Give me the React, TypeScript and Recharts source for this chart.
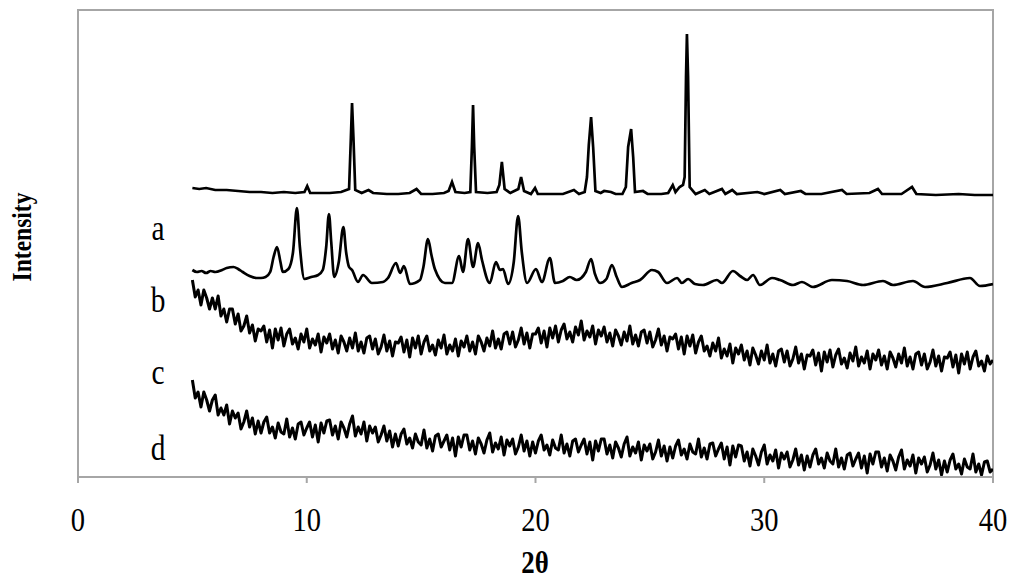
import React from "react";
import { LineChart, Line, XAxis, YAxis, ReferenceArea } from "recharts";

// 2θ grid of the amorphous scans (deg)
const SCAN_START = 5;
const SCAN_STEP = 0.125;

const xTicks = [0, 10, 20, 30, 40];
const traceLabels = ["a", "b", "c", "d"];

// top pattern: [2θ, intensity]
const patternTop: [number, number][] = [
  [5.0, 289], [5.3, 288], [5.6, 289], [6.0, 287], [6.5, 287], [7.0, 286], [7.5, 285], [8.0, 285],
  [8.5, 284], [9.0, 285], [9.5, 284], [9.9, 285], [10.02, 291], [10.15, 284], [10.5, 284], [11.0, 284],
  [11.5, 285], [11.85, 288], [11.93, 340], [11.98, 374], [12.04, 340], [12.12, 287], [12.4, 284],
  [12.7, 287], [12.9, 284], [13.5, 283], [14.0, 283], [14.5, 284], [14.8, 288], [15.0, 283], [15.5, 283],
  [16.0, 284], [16.2, 286], [16.35, 295], [16.5, 285], [16.9, 284], [17.15, 285], [17.22, 330],
  [17.27, 372], [17.32, 330], [17.4, 285], [17.9, 284], [18.3, 285], [18.42, 292], [18.53, 315],
  [18.65, 288], [18.9, 284], [19.25, 288], [19.37, 300], [19.5, 286], [19.8, 283], [19.98, 289],
  [20.1, 283], [20.6, 283], [21.2, 283], [21.68, 287], [21.9, 283], [22.15, 285], [22.25, 300],
  [22.33, 332], [22.43, 360], [22.52, 330], [22.62, 286], [22.85, 284], [23.0, 286], [23.3, 285],
  [23.5, 283], [23.8, 283], [23.95, 290], [24.05, 330], [24.18, 348], [24.27, 320], [24.35, 285],
  [24.7, 286], [24.9, 283], [25.5, 283], [25.8, 284], [26.0, 292], [26.12, 285], [26.3, 290],
  [26.45, 292], [26.52, 300], [26.58, 400], [26.62, 443], [26.67, 400], [26.74, 290], [27.0, 283],
  [27.4, 287], [27.6, 283], [28.15, 288], [28.3, 283], [28.6, 287], [28.8, 283], [29.7, 285],
  [30.0, 283], [30.7, 287], [30.9, 283], [31.6, 286], [31.8, 283], [32.5, 283], [33.4, 287],
  [33.6, 283], [34.6, 284], [34.97, 288], [35.15, 283], [36.0, 283], [36.46, 290], [36.65, 283],
  [37.5, 282], [38.5, 283], [39.2, 282], [40.0, 282],
];

// second pattern (many broad peaks)
const patternA: [number, number][] = [
  [5.0, 207], [5.2, 205], [5.4, 206], [5.6, 204], [5.8, 206], [6.0, 205], [6.3, 207], [6.5, 209],
  [6.8, 210], [7.0, 208], [7.2, 205], [7.5, 201], [7.8, 199], [8.0, 199], [8.2, 200], [8.4, 205],
  [8.55, 220], [8.7, 230], [8.85, 215], [8.95, 205], [9.2, 208], [9.4, 225], [9.57, 269], [9.7, 230],
  [9.9, 198], [10.2, 200], [10.5, 202], [10.7, 207], [10.85, 230], [10.97, 263], [11.07, 235],
  [11.2, 200], [11.4, 215], [11.6, 250], [11.72, 225], [11.85, 210], [11.98, 207], [12.24, 195],
  [12.46, 202], [12.85, 194], [13.33, 195], [13.55, 199], [13.9, 214], [14.08, 204], [14.25, 211],
  [14.51, 193], [14.95, 197], [15.1, 210], [15.3, 238], [15.45, 222], [15.6, 208], [16.04, 194],
  [16.35, 194], [16.66, 221], [16.83, 205], [17.05, 238], [17.27, 210], [17.49, 234], [17.66, 217],
  [18.0, 194], [18.27, 215], [18.45, 207], [18.58, 208], [18.8, 193], [19.05, 215], [19.24, 261],
  [19.4, 225], [19.63, 194], [20.02, 208], [20.28, 195], [20.63, 219], [20.85, 194], [21.2, 196],
  [21.5, 200], [21.8, 197], [22.2, 205], [22.43, 218], [22.6, 203], [22.82, 194], [23.1, 198],
  [23.34, 212], [23.55, 200], [23.78, 190], [24.2, 194], [24.57, 197], [25.09, 207], [25.36, 205],
  [25.75, 194], [26.19, 199], [26.4, 194], [26.67, 198], [26.97, 193], [27.32, 192], [27.93, 197],
  [28.15, 194], [28.63, 206], [28.94, 201], [29.25, 197], [29.51, 202], [29.81, 192], [30.34, 199],
  [30.69, 197], [31.26, 192], [31.65, 195], [32.13, 190], [32.96, 197], [33.62, 196], [34.32, 192],
  [35.19, 196], [35.63, 192], [36.5, 196], [37.03, 190], [38.0, 194], [38.99, 199], [39.43, 191],
  [40.0, 193],
];

// amorphous scan, upper (one row per degree, 5..39, then 40)
const scanB = [
  197, 180, 187, 172, 187, 179, 168, 179,
  168, 181, 161, 168, 155, 168, 168, 153,
  163, 146, 151, 161, 144, 152, 136, 148,
  146, 151, 135, 147, 129, 148, 137, 149,
  131, 143, 148, 133, 139, 128, 143, 135,
  148, 129, 138, 132, 143, 125, 140, 134,
  143, 128, 137, 124, 141, 135, 126, 139,
  129, 144, 126, 135, 124, 139, 141, 128,
  138, 123, 130, 142, 126, 136, 121, 135,
  134, 140, 125, 137, 120, 139, 129, 141,
  123, 135, 141, 126, 132, 122, 137, 129,
  142, 123, 132, 126, 138, 121, 136, 130,
  141, 126, 135, 123, 141, 135, 126, 139,
  131, 146, 129, 138, 128, 143, 145, 133,
  145, 130, 137, 149, 133, 144, 129, 143,
  143, 149, 134, 146, 130, 149, 139, 151,
  135, 147, 153, 138, 145, 135, 150, 142,
  156, 137, 146, 140, 151, 133, 147, 141,
  150, 135, 144, 131, 147, 141, 132, 145,
  136, 151, 133, 142, 131, 145, 147, 134,
  145, 130, 137, 148, 132, 141, 126, 140,
  138, 143, 128, 140, 123, 141, 131, 142,
  124, 135, 141, 126, 131, 121, 134, 126,
  139, 119, 128, 121, 133, 114, 129, 123,
  132, 117, 126, 112, 129, 122, 113, 126,
  117, 132, 114, 123, 111, 126, 128, 115,
  126, 111, 118, 130, 114, 123, 108, 122,
  121, 127, 112, 124, 106, 125, 115, 127,
  110, 122, 128, 113, 119, 109, 124, 116,
  130, 111, 120, 114, 126, 108, 123, 117,
  127, 112, 121, 108, 125, 119, 110, 123,
  114, 129, 111, 120, 108, 123, 125, 112,
  123, 108, 115, 127, 111, 121, 106, 120,
  119, 125, 110, 122, 104, 123, 113, 125,
  108, 120, 126, 111, 116, 106, 121, 113,
  117,
];

// amorphous scan, lower
const scanC = [
  97, 79, 85, 70, 85, 77, 66, 77,
  82, 62, 69, 62, 72, 53, 66, 59,
  64, 48, 55, 66, 50, 59, 43, 56,
  44, 55, 60, 44, 50, 39, 54, 45,
  43, 58, 40, 49, 38, 53, 55, 42,
  49, 55, 40, 52, 35, 54, 44, 56,
  57, 42, 51, 38, 55, 49, 40, 53,
  61, 41, 50, 43, 55, 36, 51, 44,
  50, 35, 42, 51, 36, 46, 30, 43,
  31, 43, 48, 33, 39, 29, 43, 35,
  32, 47, 29, 38, 26, 41, 43, 30,
  36, 42, 27, 39, 21, 40, 30, 42,
  42, 27, 36, 23, 39, 33, 24, 37,
  44, 25, 34, 28, 40, 22, 37, 31,
  38, 23, 30, 42, 26, 36, 21, 35,
  24, 36, 42, 27, 32, 22, 37, 29,
  27, 42, 24, 33, 21, 36, 38, 25,
  32, 38, 23, 35, 17, 36, 26, 38,
  38, 23, 32, 19, 35, 29, 20, 33,
  40, 21, 30, 24, 35, 17, 32, 26,
  33, 18, 25, 37, 21, 31, 16, 30,
  19, 31, 37, 22, 28, 18, 33, 25,
  23, 38, 20, 29, 18, 33, 34, 21,
  28, 34, 18, 30, 12, 31, 20, 32,
  31, 16, 25, 11, 28, 21, 12, 25,
  32, 13, 22, 16, 27, 9, 24, 18,
  25, 10, 17, 28, 12, 22, 7, 21,
  10, 22, 28, 13, 19, 9, 24, 16,
  13, 28, 10, 19, 8, 22, 24, 11,
  18, 24, 9, 21, 4, 23, 13, 25,
  25, 10, 19, 6, 22, 16, 7, 20,
  27, 8, 17, 11, 22, 4, 19, 13,
  20, 5, 12, 24, 8, 17, 2, 16,
  5, 17, 23, 8, 13, 3, 18, 10,
  8, 23, 5, 13, 2, 15, 16, 5,
  8,
];

const fromPairs = (pairs: [number, number][]) => pairs.map(([x, y]) => ({ x, y }));
const fromScan = (vals: number[]) => vals.map((y, i) => ({ x: SCAN_START + i * SCAN_STEP, y }));

const serif = "'Liberation Serif', 'Times New Roman', serif";
const frame = "#a6a6a6";
const squeeze = 0.84; // the original lettering is narrow

// chart-coordinate centres of the trace letters
const labelPos = [
  { left: 150, top: 220 },
  { left: 150, top: 292 },
  { left: 150, top: 364 },
  { left: 150, top: 440 },
];

const overlay = (left: number, top: number, rotate = 0): React.CSSProperties => ({
  position: "absolute",
  left,
  top,
  transform: `translate(-50%, -50%) rotate(${rotate}deg) scaleX(${squeeze})`,
  fontFamily: serif,
  lineHeight: 1,
  whiteSpace: "nowrap",
});

const XTick = (props: any) => {
  const { x, y, payload } = props;
  return (
    <g transform={`translate(${x},${y}) scale(${squeeze},1)`}>
      <text x={0} y={0} dy="0.71em" textAnchor="middle" fill="#000" fontSize={34} fontFamily={serif}>
        {payload.value}
      </text>
    </g>
  );
};

export default function App() {
  const crystal = [fromPairs(patternTop), fromPairs(patternA)];
  const amorphous = [fromScan(scanB), fromScan(scanC)];
  return (
    <div style={{ position: "relative", width: 1016, height: 575 }}>
      <LineChart width={1016} height={575} margin={{ top: 2, right: 31, left: 70, bottom: 0 }}>
        <XAxis
          type="number"
          dataKey="x"
          domain={[0, 40]}
          ticks={xTicks}
          height={106}
          tickSize={6}
          tickMargin={24}
          axisLine={{ stroke: frame, strokeWidth: 2 }}
          tickLine={{ stroke: frame, strokeWidth: 2 }}
          tick={<XTick />}
          allowDataOverflow
        />
        <YAxis type="number" domain={[0, 467]} hide allowDataOverflow />
        <ReferenceArea x1={0} x2={40} y1={0} y2={467} fill="none" stroke={frame} strokeWidth={2} />
        {crystal.map((d, i) => (
          <Line
            key={"p" + i}
            data={d}
            dataKey="y"
            type={i === 0 ? "linear" : "monotone"}
            stroke="#000"
            strokeWidth={2.7}
            dot={false}
            isAnimationActive={false}
          />
        ))}
        {amorphous.map((d, i) => (
          <Line
            key={"s" + i}
            data={d}
            dataKey="y"
            type="linear"
            stroke="#000"
            strokeWidth={3}
            strokeLinejoin="round"
            dot={false}
            isAnimationActive={false}
          />
        ))}
      </LineChart>
      {traceLabels.map((t, i) => (
        <div key={t} style={{ ...overlay(labelPos[i].left, labelPos[i].top), fontSize: 35 }}>
          {t}
        </div>
      ))}
      <div style={{ ...overlay(14, 229, -90), fontSize: 28, fontWeight: "bold" }}>Intensity</div>
      <div style={{ ...overlay(527, 554), fontSize: 32, fontWeight: "bold" }}>2θ</div>
    </div>
  );
}
